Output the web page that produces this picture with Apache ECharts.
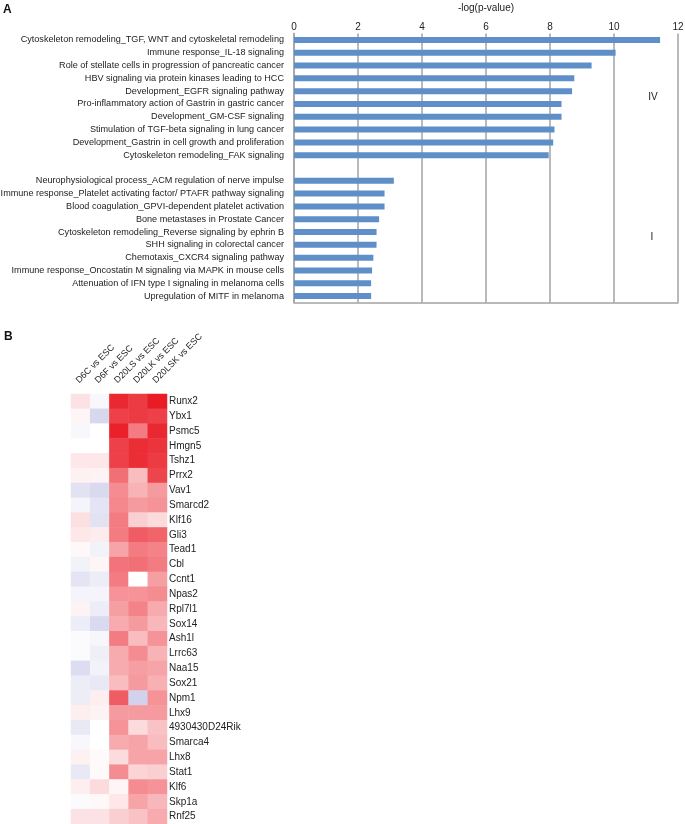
<!DOCTYPE html>
<html><head><meta charset="utf-8">
<script src="https://cdn.jsdelivr.net/npm/echarts@6/dist/echarts.min.js"></script>
<style>html,body{margin:0;padding:0;background:#fff}#c{width:685px;height:824px}</style>
</head><body><div id="c"></div>
<script>
// ---- Panel A data ----
const pathways = [
  'Cytoskeleton remodeling_TGF, WNT and cytoskeletal remodeling',
  'Immune response_IL-18 signaling',
  'Role of stellate cells in progression of pancreatic cancer',
  'HBV signaling via protein kinases leading to HCC',
  'Development_EGFR signaling pathway',
  'Pro-inflammatory action of Gastrin in gastric cancer',
  'Development_GM-CSF signaling',
  'Stimulation of TGF-beta signaling in lung cancer',
  'Development_Gastrin in cell growth and proliferation',
  'Cytoskeleton remodeling_FAK signaling',
  '',
  'Neurophysiological process_ACM regulation of nerve impulse',
  'Immune response_Platelet activating factor/ PTAFR pathway signaling',
  'Blood coagulation_GPVI-dependent platelet activation',
  'Bone metastases in Prostate Cancer',
  'Cytoskeleton remodeling_Reverse signaling by ephrin B',
  'SHH signaling in colorectal cancer',
  'Chemotaxis_CXCR4 signaling pathway',
  'Immune response_Oncostatin M signaling via MAPK in mouse cells',
  'Attenuation of IFN type I signaling in melanoma cells',
  'Upregulation of MITF in melanoma'
];
const logP = [11.44, 10.05, 9.30, 8.76, 8.69, 8.36, 8.36, 8.14, 8.10, 7.96,
  null,
  3.12, 2.83, 2.83, 2.66, 2.58, 2.58, 2.48, 2.44, 2.41, 2.41];
const xTicks = [0, 2, 4, 6, 8, 10, 12];

// ---- Panel B data ----
const comparisons = ['D6C vs ESC', 'D6F vs ESC', 'D20LS vs ESC', 'D20LK vs ESC', 'D20LSK vs ESC'];
const genes = ['Runx2','Ybx1','Psmc5','Hmgn5','Tshz1','Prrx2','Vav1','Smarcd2','Klf16','Gli3',
  'Tead1','Cbl','Ccnt1','Npas2','Rpl7l1','Sox14','Ash1l','Lrrc63','Naa15','Sox21',
  'Npm1','Lhx9','4930430D24Rik','Smarca4','Lhx8','Stat1','Klf6','Skp1a','Rnf25'];
const d6c   = [0.12,0.04,-0.03,0.00,0.10,0.06,-0.13,-0.05,0.13,0.10,0.03,-0.06,-0.12,-0.05,0.05,-0.08,-0.02,-0.02,-0.15,-0.08,-0.08,0.07,-0.10,-0.03,0.06,-0.10,0.07,-0.02,0.12];
const d6f   = [-0.03,-0.18,0.00,0.00,0.10,0.05,-0.17,-0.12,-0.13,0.08,-0.06,0.04,-0.08,-0.05,-0.08,-0.17,-0.04,-0.07,-0.06,-0.10,0.07,0.05,0.00,0.00,0.02,0.02,0.15,0.03,0.12];
const d20ls = [0.90,0.80,0.93,0.80,0.80,0.60,0.48,0.50,0.55,0.55,0.38,0.58,0.55,0.45,0.40,0.35,0.55,0.35,0.35,0.28,0.68,0.42,0.45,0.35,0.15,0.48,0.04,0.10,0.20];
const d20lk = [0.82,0.82,0.55,0.88,0.88,0.28,0.32,0.42,0.20,0.68,0.55,0.60,0.00,0.45,0.52,0.42,0.28,0.48,0.40,0.42,-0.20,0.42,0.15,0.38,0.38,0.18,0.48,0.38,0.25];
const d20lsk= [0.95,0.80,0.90,0.85,0.82,0.78,0.42,0.45,0.15,0.65,0.52,0.55,0.40,0.48,0.35,0.30,0.45,0.32,0.38,0.33,0.45,0.42,0.25,0.28,0.38,0.20,0.45,0.30,0.35];

const cols = [d6c, d6f, d20ls, d20lk, d20lsk];
const heatData = [];
cols.forEach((arr, ci) => arr.forEach((v, gi) => heatData.push([ci, gi, v])));

const FONT = '"Liberation Sans", Arial, sans-serif';
const chart = echarts.init(document.getElementById('c'), null, {renderer: 'canvas'});
chart.setOption({
  animation: false,
  textStyle: {fontFamily: FONT},
  grid: [
    {left: 294, right: 7, top: 33.5, height: 269, outerBoundsMode: 'none', containLabel: false},
    {left: 71, width: 96, top: 394, height: 430, outerBoundsMode: 'none', containLabel: false}
  ],
  xAxis: [
    {gridIndex: 0, type: 'value', position: 'top', min: 0, max: 12, interval: 2,
     name: '-log(p-value)', nameLocation: 'middle', nameGap: 20,
     nameTextStyle: {fontSize: 10, color: '#222', fontFamily: FONT},
     axisLine: {show: false}, axisTick: {show: false},
     axisLabel: {fontSize: 10, color: '#222', margin: 1, fontFamily: FONT,
       formatter: v => xTicks.includes(v) ? String(v) : ''},
     splitLine: {show: true, lineStyle: {color: '#a3a3a3', width: 1.5}}},
    {gridIndex: 0, type: 'value', position: 'bottom', min: 0, max: 12,
     axisLine: {show: true, onZero: false, lineStyle: {color: '#a3a3a3', width: 1.5}},
     axisTick: {show: false}, axisLabel: {show: false}, splitLine: {show: false}},
    {gridIndex: 1, type: 'category', position: 'top', data: comparisons,
     axisLine: {show: false}, axisTick: {show: false}, splitArea: {show: false},
     axisLabel: {rotate: -45, align: 'left', verticalAlign: 'bottom', fontSize: 9, color: '#222',
       margin: 9, interval: 0, fontFamily: FONT}}
  ],
  yAxis: [
    {gridIndex: 0, type: 'category', inverse: true, data: pathways,
     axisLine: {show: true, lineStyle: {color: '#a3a3a3', width: 1.5}},
     axisTick: {show: false},
     axisLabel: {fontSize: 9.1, color: '#222', margin: 10, interval: 0, fontFamily: FONT}},
    {gridIndex: 1, type: 'category', inverse: true, position: 'right', data: genes,
     axisLine: {show: false}, axisTick: {show: false}, splitArea: {show: false},
     axisLabel: {fontSize: 10, color: '#222', margin: 2, interval: 0, fontFamily: FONT}}
  ],
  visualMap: {show: false, seriesIndex: 1, min: -1, max: 1, dimension: 2,
    inRange: {color: ['#1e1ea0', '#ffffff', '#e8101a']}},
  series: [
    {type: 'bar', xAxisIndex: 0, yAxisIndex: 0, data: logP, barWidth: 6,
     itemStyle: {color: '#5f8fc8'}},
    {type: 'heatmap', xAxisIndex: 2, yAxisIndex: 1, data: heatData,
     itemStyle: {borderWidth: 0}}
  ],
  graphic: [
    {type: 'text', left: 3, top: 4, style: {text: 'A', font: 'bold 12px ' + FONT, fill: '#111'}},
    {type: 'text', left: 4, top: 331, style: {text: 'B', font: 'bold 12px ' + FONT, fill: '#111'}},
    {type: 'text', x: 653, y: 97, style: {text: 'IV', font: '10px ' + FONT, fill: '#222', align: 'center', verticalAlign: 'middle'}},
    {type: 'text', x: 652, y: 237, style: {text: 'I', font: '10px ' + FONT, fill: '#222', align: 'center', verticalAlign: 'middle'}}
  ]
});
</script></body></html>
